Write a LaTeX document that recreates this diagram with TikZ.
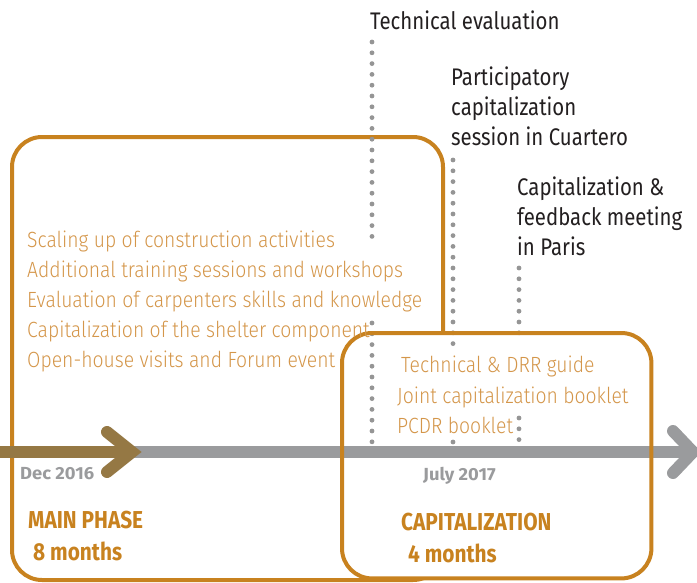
\documentclass[tikz,border=0pt]{standalone}
\usepackage{fontspec}
\setmainfont{Fira Sans}[FakeStretch=0.85]
\newfontfamily\datefont{Fira Sans}[FakeStretch=1.05]
\newfontfamily\itemfont{Fira Sans Light}[FakeStretch=0.88]
\usetikzlibrary{positioning}

\definecolor{phaseorange}{HTML}{C8821F}
\definecolor{itemorange}{HTML}{D4964A}
\definecolor{linegray}{HTML}{9A9B9D}
\definecolor{dotgray}{HTML}{959595}
\definecolor{datebrown}{HTML}{957844}
\definecolor{labelblack}{HTML}{231F20}

\tikzset{
    phasebox/.style={draw=phaseorange, line width=4pt, rounded corners=30pt},
    dotline/.style={dotgray, line width=4.8pt, line cap=round,
                    dash pattern=on 0pt off 10.8pt},
    timeline/.style={line width=12pt},
    itemtext/.style={text=itemorange, align=left, inner sep=0pt,
                     anchor=base west, font=\itemfont\fontsize{22}{30}\selectfont},
    labeltext/.style={text=labelblack, align=left, inner sep=0pt,
                      anchor=base west, font=\fontsize{24}{30}\selectfont},
    phasetitle/.style={text=phaseorange, inner sep=0pt, anchor=base west,
                       font=\bfseries\fontsize{24.5}{30}\selectfont},
    datetext/.style={text=linegray, inner sep=0pt, anchor=base west,
                     font=\datefont\bfseries\fontsize{17.5}{20}\selectfont}
}

\begin{document}
\begin{tikzpicture}[x=1pt, y=-1pt]
    \useasboundingbox (0,0) rectangle (697,582);

    % the two phases
    \node[phasebox, anchor=north west, minimum width=431pt,
          minimum height=443pt] (mainbox) at (10,135) {};
    \node[fill=white, rounded corners=30pt, anchor=north west,
          minimum width=309pt, minimum height=245pt] (capbox) at (342,333) {};

    % milestones
    \coordinate (evaltop)     at (372,42);
    \coordinate (evalmid)     at (372,237);
    \coordinate (evalrest)    at (372,323);
    \coordinate (evalbot)     at (372,443);
    \coordinate (sessiontop)  at (453,160);
    \coordinate (sessionmid)  at (453,344);
    \coordinate (sessionrest) at (453,442);
    \coordinate (sessionbot)  at (453,443);
    \coordinate (paristop)    at (519,268);
    \coordinate (parismid)    at (519,342);
    \coordinate (parisrest)   at (519,418);
    \coordinate (parisbot)    at (519,440);

    \draw[dotline] (evaltop) -- (evalmid);
    \draw[dotline] (evalrest) -- (evalbot);
    \draw[dotline] (sessiontop) -- (sessionmid);
    \draw[dotline] (sessionrest) -- (sessionbot);
    \draw[dotline] (paristop) -- (parismid);
    \draw[dotline] (parisrest) -- (parisbot);

    % time axis
    \coordinate (axisstart) at (0,452);
    \coordinate (axisend)   at (693,452);
    \coordinate (nowend)    at (132,452);
    \draw[timeline, linegray] (axisstart) -- (axisend);
    \draw[timeline, linegray, line cap=round, miter limit=4]
        ([shift={(-20,-21)}]axisend) -- (axisend) -- ([shift={(-20,21)}]axisend);
    \draw[timeline, datebrown] (axisstart) -- (nowend);
    \draw[timeline, datebrown, line cap=round, miter limit=4]
        ([shift={(-25,-20)}]nowend) -- (nowend) -- ([shift={(-25,20)}]nowend);

    \draw[phasebox] (capbox.north west) rectangle (capbox.south east);

    % texts
    \node[labeltext] (evallabel) at (370,29) {Technical evaluation};
    \node[labeltext] (sessionlabel) at (451,145)
        {Participatory\\capitalization\\session in Cuartero};
    \node[labeltext] (parislabel) at (517,255)
        {Capitalization \&\\feedback meeting\\in Paris};

    \node[itemtext] (mainitems) at (27,367)
        {Scaling up of construction activities\\
         Additional training sessions and workshops\\
         Evaluation of carpenters skills and knowledge\\
         Capitalization of the shelter component\\
         Open-house visits and Forum event};
    \node[itemtext] (capguide) at (401,372) {Technical \& DRR guide};
    \node[itemtext] (capbooklets) at (397,433)
        {Joint capitalization booklet\\PCDR booklet};

    \node[datetext] (startdate) at (20,479) {Dec 2016};
    \node[datetext] (capdate) at (423,480) {July 2017};

    \node[phasetitle] (mainname) at (28,528) {MAIN PHASE};
    \node[phasetitle] (mainlength) at (33,560) {8 months};
    \node[phasetitle] (capname) at (401,530) {CAPITALIZATION};
    \node[phasetitle] (caplength) at (408,562) {4 months};
\end{tikzpicture}
\end{document}
